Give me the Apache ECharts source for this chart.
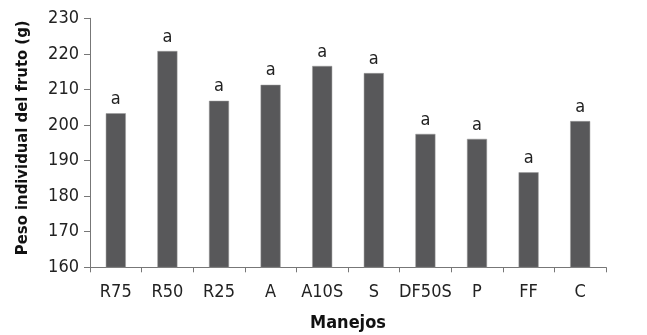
<!DOCTYPE html>
<html>
<head>
<meta charset="utf-8">
<script src="https://cdn.jsdelivr.net/npm/echarts@6/dist/echarts.min.js"></script>
<style>
  html, body { margin: 0; padding: 0; background: #fff; }
  #chart { width: 647px; height: 335px; }
</style>
</head>
<body>
<div id="chart"></div>
<script>
// Treatments (manejos) and mean individual fruit weight (g)
var categories = ['R75', 'R50', 'R25', 'A', 'A10S', 'S', 'DF50S', 'P', 'FF', 'C'];
var fruitWeight = [203.3, 220.8, 206.8, 211.3, 216.6, 214.6, 197.5, 196.1, 186.7, 201.1];
// Significance letters shown above each bar
var letters = ['a', 'a', 'a', 'a', 'a', 'a', 'a', 'a', 'a', 'a'];

var FONT = '"Liberation Sans Narrow", "DejaVu Sans Condensed", sans-serif';

var chart = echarts.init(document.getElementById('chart'), null, { renderer: 'canvas' });
chart.setOption({
  animation: false,
  backgroundColor: '#ffffff',
  grid: {
    left: 90, right: 41, top: 18.3, bottom: 67.7,
    containLabel: false,
    outerBoundsMode: 'none'
  },
  xAxis: {
    type: 'category',
    data: categories,
    name: 'Manejos',
    nameLocation: 'middle',
    nameGap: 47,
    nameTextStyle: { fontFamily: FONT, fontWeight: 'bold', fontSize: 18, color: '#111' },
    axisLine: { lineStyle: { color: '#777', width: 1 } },
    axisTick: { show: true, length: 5, alignWithLabel: false, lineStyle: { color: '#777' } },
    axisLabel: { fontFamily: FONT, fontSize: 18, color: '#222', margin: 16, interval: 0 }
  },
  yAxis: {
    type: 'value',
    min: 160,
    max: 230,
    interval: 10,
    name: 'Peso individual del fruto (g)',
    nameLocation: 'middle',
    nameGap: 59,
    nameTextStyle: { fontFamily: FONT, fontWeight: 'bold', fontSize: 16.5, color: '#111', padding: [0, 0, 0, 10] },
    axisLine: { show: true, lineStyle: { color: '#777', width: 1 } },
    axisTick: { show: true, length: 6, lineStyle: { color: '#777' } },
    axisLabel: { fontFamily: FONT, fontSize: 18, color: '#222', margin: 11 },
    splitLine: { show: false }
  },
  series: [{
    type: 'bar',
    data: fruitWeight,
    barWidth: 20,
    itemStyle: { color: '#58585a', borderColor: '#9a9a9a', borderWidth: 0.5 },
    label: {
      show: true,
      position: 'top',
      distance: 5,
      fontFamily: FONT,
      fontSize: 18,
      color: '#222',
      formatter: function (p) { return letters[p.dataIndex]; }
    }
  }]
});
</script>
</body>
</html>
